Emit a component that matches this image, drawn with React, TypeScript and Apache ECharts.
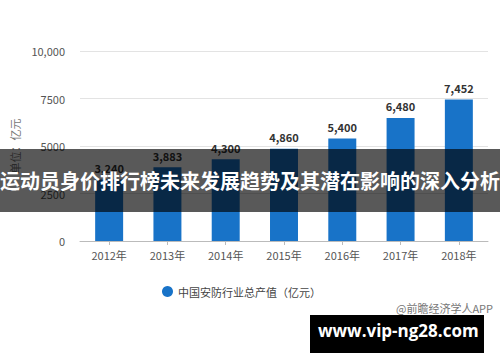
import React, { useEffect, useRef } from "react";
import * as echarts from "echarts";

const categories = ["2012年", "2013年", "2014年", "2015年", "2016年", "2017年", "2018年"];
const values = [3240, 3883, 4300, 4860, 5400, 6480, 7452];
const seriesName = "中国安防行业总产值（亿元）";
const yTicks = [0, 2500, 5000, 7500, 10000];
const bannerText = "运动员身价排行榜未来发展趋势及其潜在影响的深入分析";
const sourceText = "@前瞻经济学人APP";
const siteText = "www.vip-ng28.com";

const FONT = "'Noto Sans CJK SC', 'Noto Sans', sans-serif";

export default function App() {
  const ref = useRef<HTMLDivElement>(null);
  useEffect(() => {
    if (!ref.current) return;
    const chart = echarts.init(ref.current, undefined, { renderer: "svg" });
    chart.setOption({
      animation: false,
      backgroundColor: "#ffffff",
      textStyle: { fontFamily: FONT },
      grid: { left: 80, right: 12, top: 51, bottom: 121, containLabel: false },
      legend: {
        data: [{ name: seriesName, icon: "circle" }],
        left: 157,
        top: 281,
        itemWidth: 11,
        itemHeight: 11,
        itemGap: 6,
        textStyle: { fontSize: 11, color: "#444", fontFamily: FONT },
      },
      xAxis: {
        type: "category",
        data: categories,
        axisTick: { show: true, alignWithLabel: true, length: 4, lineStyle: { color: "#bbb" } },
        axisLine: { lineStyle: { color: "#bbb" } },
        axisLabel: { fontSize: 11, color: "#555", margin: 8, fontFamily: FONT },
      },
      yAxis: {
        type: "value",
        min: 0,
        max: yTicks[yTicks.length - 1],
        interval: 2500,
        name: "单位：亿元",
        nameLocation: "middle",
        nameGap: 60,
        nameRotate: 90,
        nameTextStyle: { fontSize: 11, color: "#777", fontFamily: FONT },
        axisLine: { show: false },
        axisTick: { show: false },
        splitLine: { lineStyle: { color: "#e3e3e3" } },
        axisLabel: {
          fontSize: 11,
          color: "#555",
          margin: 15,
          fontFamily: FONT,
          formatter: (v: number) => (v >= 10000 ? v.toLocaleString("en-US") : String(v)),
        },
      },
      series: [
        {
          name: seriesName,
          type: "bar",
          data: values,
          barWidth: "48%",
          itemStyle: { color: "#1873c8" },
          label: {
            show: true,
            position: "top",
            distance: 6,
            fontSize: 11,
            fontWeight: "bold",
            color: "#333",
            fontFamily: FONT,
            formatter: (p: any) => Number(p.value).toLocaleString("en-US"),
          },
        },
      ],
      graphic: [
        {
          type: "rect",
          left: 0,
          top: 149,
          shape: { width: 500, height: 63 },
          style: { fill: "rgba(0,0,0,0.65)" },
          z: 100,
        },
        {
          type: "text",
          left: "center",
          top: 170,
          style: {
            text: bannerText,
            fill: "#ffffff",
            font: "bold 20px " + FONT,
          },
          z: 101,
        },
        {
          type: "text",
          right: 7,
          top: 302,
          style: { text: sourceText, fill: "#777", font: "11px " + FONT },
          z: 50,
        },
        {
          type: "rect",
          left: 310,
          top: 315,
          shape: { width: 174, height: 38 },
          style: { fill: "#000000" },
          z: 100,
        },
        {
          type: "text",
          left: 318,
          top: 322,
          style: { text: siteText, fill: "#ffffff", font: "bold 17px 'Open Sans', sans-serif" },
          z: 101,
        },
      ],
    });
    return () => chart.dispose();
  }, []);
  return <div ref={ref} style={{ width: 500, height: 362, position: "absolute", left: 0, top: 0 }} />;
}
